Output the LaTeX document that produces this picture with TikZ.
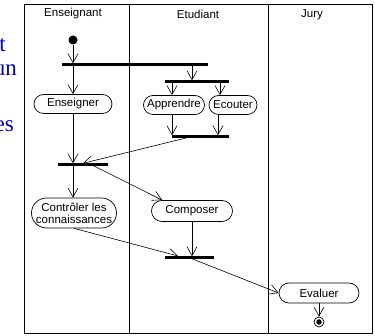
\documentclass[tikz,border=0pt]{standalone}
\usepackage{fontspec}
\setmainfont{Liberation Sans}
\newfontfamily\blueserif{Liberation Serif}
\usetikzlibrary{arrows.meta,shapes.misc}
\begin{document}
\begin{tikzpicture}[x=1pt,y=-1pt,
  font=\fontsize{11.5}{13}\selectfont,
  lane/.style={draw=black, line width=0.8pt},
  act/.style={draw, rounded rectangle, line width=0.7pt, inner sep=1pt, align=center},
  bar/.style={fill=black, inner sep=0pt, minimum height=3pt},
  arr/.style={-{Straight Barb[length=9pt,width=10pt]}, line width=0.6pt},
  slide/.style={text=blue!75!black, font=\blueserif\fontsize{23}{26}\selectfont, anchor=base east, inner sep=0pt}
]
\useasboundingbox (0,0) rectangle (375,336);
\begin{scope}
\clip (0,0) rectangle (375,336);
% slide text fragments
\node[slide] (s1) at (6,52) {t};
\node[slide] (s2) at (17,76) {un};
\node[slide] (s3) at (14,132) {es};
\end{scope}
% swimlanes
\draw[lane] (24,4) rectangle (372,333);
\draw[lane] (129,4) -- (129,333);
\draw[lane] (268,4) -- (268,333);
\node (h1) at (73,14) {Enseignant};
\node (h2) at (198,14) {Etudiant};
\node (h3) at (312,15) {Jury};
% nodes
\node[circle, fill=black, inner sep=0pt, minimum size=9pt] (start) at (73,40) {};
\node[bar, minimum width=146pt] (b1) at (135,65) {};
\node[bar, minimum width=64pt] (b2) at (197,82) {};
\node[act, minimum width=80pt, minimum height=19pt] (ens) at (73,104) {Enseigner};
\node[act, minimum width=63pt, minimum height=19pt] (app) at (174,105) {Apprendre};
\node[act, minimum width=50pt, minimum height=19pt] (eco) at (233,105) {Ecouter};
\node[bar, minimum width=57pt] (b3) at (200.5,137) {};
\node[bar, minimum width=50pt] (b4) at (83,165) {};
\node[act, minimum width=87pt, minimum height=30pt, font=\fontsize{11.5}{12}\selectfont] (ctrl) at (74,213) {Contrôler les\\connaissances};
\node[act, minimum width=83pt, minimum height=21pt] (comp) at (192,211) {Composer};
\node[bar, minimum width=49pt] (b5) at (189.5,258) {};
\node[act, minimum width=82pt, minimum height=20pt] (eval) at (319,293) {Evaluer};
\node[circle, draw, line width=0.7pt, inner sep=0pt, minimum size=10pt] (end) at (319,322) {};
\node[circle, fill=black, inner sep=0pt, minimum size=5.5pt] (endin) at (end) {};
% connectors
\coordinate (c1) at (73,65);
\coordinate (c2) at (192,65);
\coordinate (c3) at (172,82);
\coordinate (c4) at (220,82);
\coordinate (c5) at (190,137);
\coordinate (c6) at (92,165);
\coordinate (c7) at (73,165);
\coordinate (c8) at (178,256);
\coordinate (c9) at (190,258);
\draw[arr] (start) -- (b1.north -| start);
\draw[arr] (c1) -- (ens.north);
\draw[arr] (c2) -- (b2.north -| c2);
\draw[arr] (c3) -- (app.north -| c3);
\draw[arr] (c4) -- (eco.north -| c4);
\draw[arr] (app.south -| c3) -- (b3.north -| c3);
\draw[arr] (eco.south -| 218,0) -- (b3.north -| 218,0);
\draw[arr] (c5) -- (b4.north -| 83,0);
\draw[arr] (ens.south) -- (b4.north -| ens.south);
\draw[arr] (c7) -- (ctrl.north -| c7);
\draw[arr] (c6) -- (comp.160);
\draw[arr] (comp.south) -- (b5.north -| comp.south);
\draw[arr] (ctrl.south) -- (c8);
\draw[arr] (c9) -- (eval.west);
\draw[arr] (eval.south) -- (end.north);
\end{tikzpicture}
\end{document}
